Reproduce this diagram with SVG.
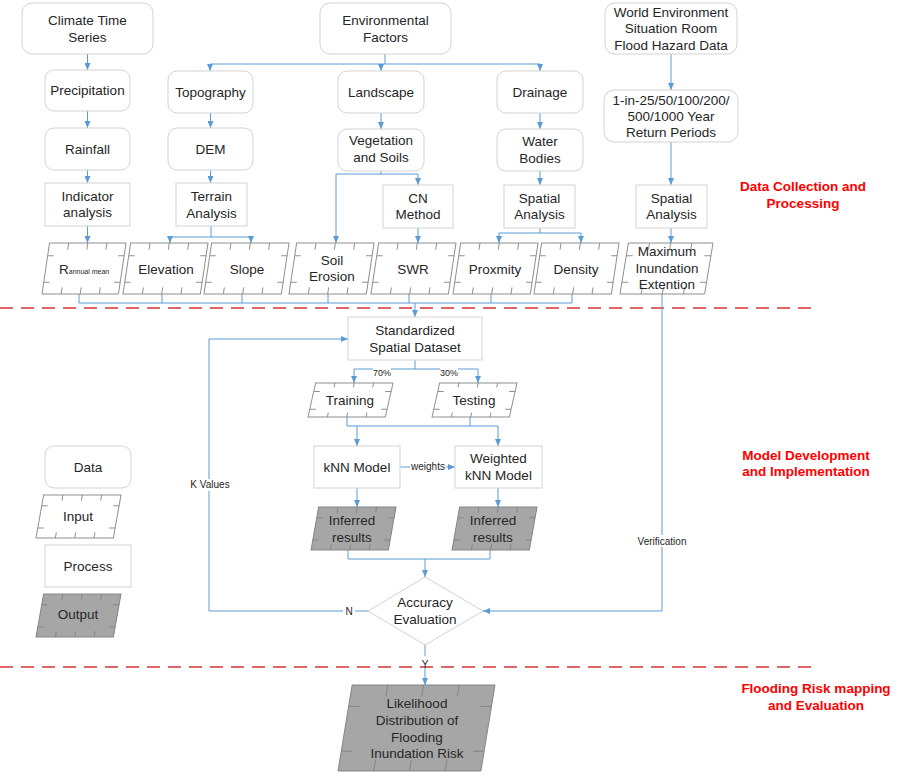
<svg xmlns="http://www.w3.org/2000/svg" xmlns:xlink="http://www.w3.org/1999/xlink" width="899" height="777" viewBox="0 0 899 777">
<style>
.rr{fill:#fff;stroke:#d3d3d3;stroke-width:1}
.inp{fill:#fff;stroke:#8f8f8f}
.out{fill:#a6a6a6;stroke:#858585}
text{font-family:"Liberation Sans",Arial,sans-serif;font-size:13.5px;fill:#262626;text-anchor:middle}
.lbl{font-size:10px}
.sm{font-size:9px}
.sec{font-weight:bold;fill:#f00;font-size:13.5px}
.c{fill:none;stroke:#5b9bd5;stroke-width:1}
.a{marker-end:url(#ah)}
.dash{stroke:#e06666;stroke-width:2;stroke-dasharray:13 8;fill:none}
.bg{fill:#fff}
</style>
<defs>
<marker id="ah" viewBox="0 0 10 10" refX="10" refY="5" markerWidth="7" markerHeight="6" markerUnits="userSpaceOnUse" orient="auto" preserveAspectRatio="none">
<path d="M0,0 L10,5 L0,10 z" fill="#5b9bd5"/>
</marker>
<symbol id="para" viewBox="0 0 100 100" preserveAspectRatio="none" overflow="visible">
<polygon points="9,0 100,0 91,100 0,100" vector-effect="non-scaling-stroke"/>
<path fill="none" vector-effect="non-scaling-stroke" d="M31.75 0l-1.17 13M54.5 0l-1.17 13M77.25 0l-1.17 13M22.75 100l1.17 -13M45.5 100l1.17 -13M68.25 100l1.17 -13M6.75 25h7M2.07 77h7M97.75 25h-7M93.07 77h-7"/>
</symbol>
</defs>
<rect width="899" height="777" fill="#fff"/>

<g id="separators">
<line class="dash" x1="0" y1="308" x2="815" y2="308"/>
<line class="dash" x1="0" y1="667" x2="815" y2="667"/>
</g>

<g id="connectors">
<path class="c a" d="M87.5 54V70"/>
<path class="c a" d="M87.5 111V128"/>
<path class="c a" d="M87.5 170V183"/>
<path class="c a" d="M87.5 226V243"/>
<path class="c" d="M385 54V64M210 64H540"/>
<path class="c a" d="M210 64V71"/>
<path class="c a" d="M381 64V71"/>
<path class="c a" d="M540 64V71"/>
<path class="c a" d="M210.5 113V128"/>
<path class="c a" d="M210.5 170V183"/>
<path class="c a" d="M211 226V237H170V243"/>
<path class="c a" d="M211 237H251V243"/>
<path class="c a" d="M381 113V129"/>
<path class="c a" d="M381 171V174H336V243"/>
<path class="c a" d="M381 174H418V185"/>
<path class="c a" d="M418 228V243"/>
<path class="c a" d="M540 113V129"/>
<path class="c a" d="M540 171V185"/>
<path class="c a" d="M540 228V233H499V243"/>
<path class="c a" d="M540 233H581V243"/>
<path class="c a" d="M671 54V90"/>
<path class="c a" d="M671 142V185"/>
<path class="c a" d="M671 228V243"/>
<path class="c" d="M79 294V303M162 294V303M242 294V303M328 294V303M409 294V303M491 294V303M572 294V303M79 303H572"/>
<path class="c a" d="M415 303V317"/>
<path class="c a" d="M662 294V611H483"/>
<path class="c a" d="M415 360V369H354V383"/>
<path class="c a" d="M415 369H478V383"/>
<path class="c a" d="M347 417V426H498V446"/>
<path class="c" d="M470 417V426"/>
<path class="c a" d="M357 426V446"/>
<path class="c a" d="M400 467H455"/>
<path class="c a" d="M357 488V507"/>
<path class="c a" d="M498 488V507"/>
<path class="c" d="M348 550V559H490V550"/>
<path class="c a" d="M425 559V577"/>
<path class="c a" d="M368 611H209V339H348"/>
<path class="c a" d="M425 645V685"/>
</g>

<g id="labels">
<rect class="bg" x="373" y="366" width="18" height="11"/>
<text class="sm" x="382" y="376">70%</text>
<rect class="bg" x="440" y="366" width="18" height="11"/>
<text class="sm" x="449" y="376">30%</text>
<rect class="bg" x="410" y="461" width="36" height="12"/>
<text class="lbl" x="428" y="470">weights</text>
<rect class="bg" x="187" y="479" width="46" height="12"/>
<text class="lbl" x="210" y="488">K Values</text>
<rect class="bg" x="343" y="605" width="12" height="12"/>
<text class="lbl" x="349" y="615">N</text>
<rect class="bg" x="420" y="656" width="10" height="10"/>
<text class="lbl" x="425" y="668">Y</text>
<rect class="bg" x="635" y="535" width="54" height="12"/>
<text class="lbl" x="662" y="545">Verification</text>
</g>

<g id="climate"><rect class="rr" x="22" y="3" width="131" height="51" rx="10"/><text x="87.5" y="25">Climate Time</text><text x="87.5" y="42">Series</text></g>
<g id="env-factors"><rect class="rr" x="320" y="3" width="131" height="51" rx="10"/><text x="385.5" y="25">Environmental</text><text x="385.5" y="42">Factors</text></g>
<g id="wesr"><rect class="rr" x="605" y="3" width="132" height="51" rx="10"/><text x="671" y="17">World Environment</text><text x="671" y="33">Situation Room</text><text x="671" y="50">Flood Hazard Data</text></g>
<g id="precipitation"><rect class="rr" x="45" y="70" width="85" height="41" rx="9"/><text x="87.5" y="95">Precipitation</text></g>
<g id="topography"><rect class="rr" x="168" y="71" width="85" height="42" rx="9"/><text x="210.5" y="97">Topography</text></g>
<g id="landscape"><rect class="rr" x="338" y="71" width="86" height="42" rx="9"/><text x="381" y="97">Landscape</text></g>
<g id="drainage"><rect class="rr" x="497" y="71" width="86" height="42" rx="9"/><text x="540" y="97">Drainage</text></g>
<g id="return-periods"><rect class="rr" x="604" y="90" width="134" height="52" rx="10"/><text x="671" y="105">1-in-25/50/100/200/</text><text x="671" y="121">500/1000 Year</text><text x="671" y="137">Return Periods</text></g>
<g id="rainfall"><rect class="rr" x="45" y="128" width="85" height="42" rx="9"/><text x="87.5" y="154">Rainfall</text></g>
<g id="dem"><rect class="rr" x="168" y="128" width="85" height="42" rx="9"/><text x="210.5" y="154">DEM</text></g>
<g id="veg-soils"><rect class="rr" x="338" y="129" width="86" height="42" rx="9"/><text x="381" y="145">Vegetation</text><text x="381" y="162">and Soils</text></g>
<g id="water-bodies"><rect class="rr" x="497" y="129" width="86" height="42" rx="9"/><text x="540" y="146">Water</text><text x="540" y="163">Bodies</text></g>

<g id="indicator"><rect class="rr" x="45" y="183" width="85" height="43"/><text x="87.5" y="201">Indicator</text><text x="87.5" y="217">analysis</text></g>
<g id="terrain"><rect class="rr" x="176" y="183" width="71" height="43"/><text x="211.5" y="201">Terrain</text><text x="211.5" y="218">Analysis</text></g>
<g id="cn-method"><rect class="rr" x="383" y="185" width="70" height="43"/><text x="418" y="203">CN</text><text x="418" y="219">Method</text></g>
<g id="spatial-analysis-1"><rect class="rr" x="504" y="185" width="71" height="43"/><text x="539.5" y="203">Spatial</text><text x="539.5" y="219">Analysis</text></g>
<g id="spatial-analysis-2"><rect class="rr" x="636" y="185" width="71" height="43"/><text x="671.5" y="203">Spatial</text><text x="671.5" y="219">Analysis</text></g>

<g id="rannual"><use xlink:href="#para" href="#para" class="inp" x="42" y="243" width="84" height="51"/><text x="59" y="274" style="text-anchor:start">R<tspan font-size="7">annual mean</tspan></text></g>
<g id="elevation"><use xlink:href="#para" href="#para" class="inp" x="123" y="243" width="85" height="51"/><text x="166" y="274">Elevation</text></g>
<g id="slope"><use xlink:href="#para" href="#para" class="inp" x="204" y="243" width="85" height="51"/><text x="247" y="274">Slope</text></g>
<g id="soil-erosion"><use xlink:href="#para" href="#para" class="inp" x="289" y="243" width="85" height="51"/><text x="332" y="265">Soil</text><text x="332" y="281">Erosion</text></g>
<g id="swr"><use xlink:href="#para" href="#para" class="inp" x="371" y="243" width="85" height="51"/><text x="413" y="274">SWR</text></g>
<g id="proxmity"><use xlink:href="#para" href="#para" class="inp" x="453" y="243" width="85" height="51"/><text x="495" y="274">Proxmity</text></g>
<g id="density"><use xlink:href="#para" href="#para" class="inp" x="534" y="243" width="85" height="51"/><text x="576" y="274">Density</text></g>
<g id="max-inundation"><use xlink:href="#para" href="#para" class="inp" x="620" y="243" width="93" height="51"/><text x="667" y="256">Maximum</text><text x="667" y="273">Inundation</text><text x="667" y="289">Extention</text></g>

<g id="standardized"><rect class="rr" x="348" y="317" width="134" height="43"/><text x="415" y="335">Standardized</text><text x="415" y="352">Spatial Dataset</text></g>
<g id="training"><use xlink:href="#para" href="#para" class="inp" x="308" y="383" width="85" height="34"/><text x="350" y="405">Training</text></g>
<g id="testing"><use xlink:href="#para" href="#para" class="inp" x="432" y="383" width="85" height="34"/><text x="474" y="405">Testing</text></g>
<g id="knn"><rect class="rr" x="314" y="446" width="86" height="42"/><text x="357" y="472">kNN Model</text></g>
<g id="wknn"><rect class="rr" x="455" y="446" width="87" height="42"/><text x="498.5" y="463">Weighted</text><text x="498.5" y="480">kNN Model</text></g>
<g id="inferred-1"><use xlink:href="#para" href="#para" class="out" x="311" y="507" width="85" height="43"/><text x="352" y="525">Inferred</text><text x="352" y="542">results</text></g>
<g id="inferred-2"><use xlink:href="#para" href="#para" class="out" x="452" y="507" width="85" height="43"/><text x="493" y="525">Inferred</text><text x="493" y="542">results</text></g>
<g id="accuracy"><polygon points="425,577 483,611 425,645 368,611" fill="#fff" stroke="#d3d3d3"/><text x="425" y="607">Accuracy</text><text x="425" y="624">Evaluation</text></g>
<g id="likelihood"><use xlink:href="#para" href="#para" class="out" x="338" y="685" width="157" height="86"/><text x="417" y="708">Likelihood</text><text x="417" y="725">Distribution of</text><text x="417" y="742">Flooding</text><text x="417" y="758">Inundation Risk</text></g>

<g id="legend-data"><rect class="rr" x="45" y="446" width="86" height="42" rx="9"/><text x="88" y="472">Data</text></g>
<g id="legend-input"><use xlink:href="#para" href="#para" class="inp" x="36" y="495" width="85" height="43"/><text x="78" y="521">Input</text></g>
<g id="legend-process"><rect class="rr" x="45" y="545" width="86" height="42"/><text x="88" y="571">Process</text></g>
<g id="legend-output"><use xlink:href="#para" href="#para" class="out" x="36" y="594" width="85" height="43"/><text x="78" y="619">Output</text></g>

<g id="sections">
<text class="sec" x="803" y="191">Data Collection and</text><text class="sec" x="803" y="208">Processing</text>
<text class="sec" x="806" y="460">Model Development</text><text class="sec" x="806" y="476">and Implementation</text>
<text class="sec" x="816" y="693">Flooding Risk mapping</text><text class="sec" x="816" y="710">and Evaluation</text>
</g>
</svg>
